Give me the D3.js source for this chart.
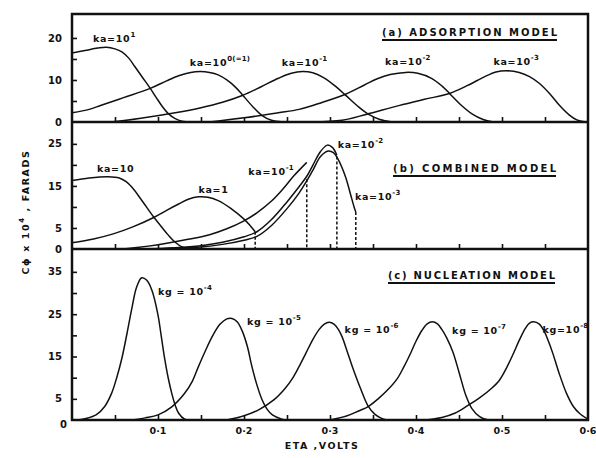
<!DOCTYPE html>
<html>
<head>
<meta charset="utf-8">
<script src="https://cdn.jsdelivr.net/npm/d3@7"></script>
<style>
  body { margin: 0; background: #fff; }
  text { font-family: "DejaVu Sans", sans-serif; font-weight: bold; fill: #111; }
</style>
</head>
<body>
<div id="chart"></div>
<script>
// ---- data: [eta (V), C x 10^4 (F)] ----
// (a) adsorption model
const adsKa10   = [[0,16.4],[0.015,17.0],[0.03,17.6],[0.04,17.8],[0.05,17.4],[0.058,16.7],[0.066,15.2],[0.073,13.2],[0.082,10.6],[0.091,8.0],[0.098,5.8],[0.105,3.7],[0.112,2.0],[0.12,0.8],[0.128,0.2],[0.14,0]];
const adsKa1    = [[0,2.2],[0.02,3.0],[0.034,4.0],[0.06,5.8],[0.091,8.0],[0.11,9.8],[0.124,11.0],[0.138,11.8],[0.149,12.0],[0.16,11.8],[0.17,11.2],[0.18,10.0],[0.19,8.3],[0.198,6.5],[0.21,3.7],[0.221,1.5],[0.232,0.4],[0.245,0]];
const adsKa01   = [[0.045,0],[0.08,0.9],[0.12,2.2],[0.15,3.4],[0.175,4.7],[0.198,6.3],[0.22,8.4],[0.24,10.4],[0.255,11.6],[0.268,12.0],[0.28,11.7],[0.292,10.6],[0.305,8.7],[0.318,6.4],[0.332,3.8],[0.345,1.8],[0.358,0.6],[0.372,0]];
const adsKa001  = [[0.16,0],[0.2,1.0],[0.24,2.2],[0.264,3.0],[0.29,4.6],[0.318,6.6],[0.34,8.8],[0.355,10.3],[0.37,11.3],[0.388,11.8],[0.402,11.6],[0.418,10.4],[0.43,8.6],[0.439,6.8],[0.452,4.1],[0.466,1.8],[0.478,0.6],[0.49,0]];
const adsKa0001 = [[0.28,0],[0.314,0.4],[0.342,1.8],[0.38,3.9],[0.41,5.4],[0.439,6.8],[0.46,8.7],[0.48,10.8],[0.493,11.9],[0.505,12.2],[0.52,11.8],[0.532,10.8],[0.544,9.1],[0.556,6.6],[0.567,3.9],[0.578,1.7],[0.587,0.5],[0.597,0]];

// (b) combined model
const comKa10   = [[0,16.3],[0.02,16.9],[0.042,17.2],[0.055,16.9],[0.063,16.0],[0.07,14.6],[0.08,11.9],[0.095,7.6],[0.104,5.3],[0.112,3.3],[0.12,1.6],[0.128,0.5],[0.138,0]];
const comKa1    = [[0,1.5],[0.025,2.4],[0.048,3.6],[0.07,5.2],[0.095,7.5],[0.11,9.2],[0.124,10.7],[0.136,11.9],[0.147,12.4],[0.158,12.3],[0.17,11.5],[0.185,9.6],[0.2,7.1],[0.207,5.6],[0.213,4.1]];
const comKa01   = [[0.06,0],[0.1,1.0],[0.135,2.3],[0.16,3.4],[0.18,4.8],[0.2,6.7],[0.215,8.6],[0.232,11.4],[0.245,14.2],[0.258,17.4],[0.273,20.6]];
const comKa001  = [[0.08,0],[0.12,0.3],[0.15,0.8],[0.175,1.6],[0.2,2.9],[0.215,4.1],[0.232,7.0],[0.25,11.2],[0.264,14.8],[0.273,17.3],[0.28,19.9],[0.289,23.2],[0.297,24.7],[0.303,24.1],[0.308,22.3]];
const comKa0001 = [[0.085,0],[0.12,0.2],[0.15,0.5],[0.175,1.1],[0.2,2.1],[0.215,3.0],[0.232,5.6],[0.25,9.6],[0.264,13.3],[0.273,16.2],[0.28,18.7],[0.289,22.0],[0.298,23.3],[0.304,22.9],[0.309,21.5],[0.318,17.2],[0.324,12.9],[0.328,10.0],[0.33,8.8]];
// dashed drops: [eta, top value]
const comDrops  = [[0.213,4.1],[0.273,16.6],[0.308,22.0],[0.33,8.8]];

// (c) nucleation model
const nucKg4 = [[0.008,0],[0.015,0.3],[0.028,1.2],[0.038,3.2],[0.046,6.3],[0.052,10],[0.058,14.6],[0.064,20.5],[0.07,26.8],[0.075,31.3],[0.081,33.6],[0.087,33.0],[0.093,30.6],[0.1,24.8],[0.104,19.5],[0.108,14.2],[0.112,9.8],[0.116,6.3],[0.12,3.5],[0.124,1.6],[0.131,0.2],[0.136,0]];
const nucKg5 = [[0.07,0],[0.085,0.5],[0.1,1.2],[0.116,3.1],[0.131,6.3],[0.14,9.2],[0.147,12.6],[0.155,16.3],[0.163,19.7],[0.172,22.6],[0.18,23.9],[0.186,24.0],[0.192,23.2],[0.198,21.0],[0.204,17.3],[0.209,12.8],[0.215,8.3],[0.221,4.8],[0.227,2.5],[0.233,1.2],[0.244,0.2],[0.25,0]];
const nucKg6 = [[0.18,0],[0.2,1.0],[0.217,2.4],[0.235,4.8],[0.248,7.5],[0.256,9.7],[0.264,12.6],[0.272,15.8],[0.28,19.0],[0.287,21.3],[0.293,22.6],[0.299,23.1],[0.305,22.6],[0.31,21.3],[0.314,19.7],[0.32,16.2],[0.326,12.6],[0.336,7.2],[0.344,3.4],[0.352,1.4],[0.36,0.4],[0.366,0]];
const nucKg7 = [[0.3,0],[0.32,1.0],[0.334,2.2],[0.344,3.1],[0.356,5.0],[0.368,7.3],[0.378,9.7],[0.386,12.6],[0.394,15.9],[0.4,18.6],[0.407,21.2],[0.413,22.7],[0.419,23.2],[0.425,22.7],[0.43,21.4],[0.436,19.3],[0.443,16.0],[0.45,11.3],[0.458,5.8],[0.465,2.7],[0.474,0.8],[0.484,0]];
const nucKg8 = [[0.41,0],[0.43,0.6],[0.445,1.6],[0.46,3.4],[0.475,5.4],[0.488,7.5],[0.497,9.4],[0.505,12.2],[0.513,15.6],[0.52,18.8],[0.527,21.6],[0.532,22.9],[0.537,23.2],[0.543,22.7],[0.549,21.0],[0.554,18.6],[0.559,15.8],[0.566,11.3],[0.575,6.3],[0.583,3.2],[0.59,1.6],[0.6,0.2]];

// axes
const etaTicks   = [0.05,0.1,0.15,0.2,0.25,0.3,0.35,0.4,0.45,0.5,0.55];
const etaLabels  = [0.1,0.2,0.3,0.4,0.5,0.6];
const ticksA  = [5,10,15,20];       const labelsA = [0,10,20];
const ticksB  = [5,10,15,20,25];    const labelsB = [0,5,15,25];
const ticksC  = [5,10,15,20,25,30,35]; const labelsC = [5,15,25,35];

// curve labels: [eta, value, base, superscript]
const notesA = [[0.0244,19.0,"ka=10","1"],[0.137,13.3,"ka=10","0(=1)"],[0.244,13.3,"ka=10","-1"],[0.364,13.6,"ka=10","-2"],[0.49,13.6,"ka=10","-3"]];
const notesB = [[0.029,18.3,"ka=10",""],[0.147,13.3,"ka=1",""],[0.205,17.6,"ka=10","-1"],[0.309,24.0,"ka=10","-2"],[0.329,11.7,"ka=10","-3"]];
const notesC = [[0.1,29.6,"kg = 10","-4"],[0.2035,22.5,"kg = 10","-5"],[0.317,20.6,"kg = 10","-6"],[0.442,20.3,"kg = 10","-7"],[0.547,20.6,"kg=10","-8"]];

// ---- layout ----
const W = 596, H = 458;
const x = d3.scaleLinear().domain([0, 0.6]).range([72, 588]);

const panels = [
  { key: "a", top: 14, bottom: 122, ymax: 25.7, ticks: ticksA, labels: labelsA, notes: notesA,
    series: [adsKa10, adsKa1, adsKa01, adsKa001, adsKa0001],
    title: "(a)  ADSORPTION  MODEL", tx: 382, tw: 175, ty: 36 },
  { key: "b", top: 122, bottom: 249, ymax: 30.2, ticks: ticksB, labels: labelsB, notes: notesB,
    series: [comKa10, comKa1, comKa01, comKa001, comKa0001], drops: comDrops,
    title: "(b)  COMBINED  MODEL", tx: 393, tw: 163, ty: 172 },
  { key: "c", top: 249, bottom: 420, ymax: 40.4, ticks: ticksC, labels: labelsC, notes: notesC,
    series: [nucKg4, nucKg5, nucKg6, nucKg7, nucKg8],
    title: "(c)  NUCLEATION  MODEL", tx: 388, tw: 167, ty: 279 }
];

const svg = d3.select("#chart").append("svg")
  .attr("width", W).attr("height", H)
  .style("background", "#fff");

panels.forEach(p => {
  const y = d3.scaleLinear().domain([0, p.ymax]).range([p.bottom, p.top]);
  const g = svg.append("g").attr("class", "panel-" + p.key);

  svg.append("clipPath").attr("id", "clip-" + p.key)
    .append("rect").attr("x", x(0)).attr("y", p.top)
    .attr("width", x(0.6) - x(0)).attr("height", p.bottom - p.top);

  // y ticks inward
  const yAxis = d3.axisLeft(y).tickValues(p.ticks).tickSize(-5).tickFormat("");
  g.append("g").attr("transform", `translate(${x(0)},0)`).call(yAxis)
    .call(a => a.select(".domain").remove())
    .call(a => a.selectAll("line").attr("stroke", "#111").attr("stroke-width", 1.6));

  g.selectAll("text.ylab").data(p.labels).join("text")
    .attr("class", "ylab")
    .attr("x", 62).attr("y", d => y(d)).attr("dy", "0.36em")
    .attr("text-anchor", "end").style("font-size", "10px")
    .text(d => d);

  // x ticks inward
  const xAxis = d3.axisBottom(x).tickValues(etaTicks).tickSize(-5).tickFormat("");
  g.append("g").attr("transform", `translate(0,${p.bottom})`).call(xAxis)
    .call(a => a.select(".domain").remove())
    .call(a => a.selectAll("line").attr("stroke", "#111").attr("stroke-width", 1.6));

  const line = d3.line().x(d => x(d[0])).y(d => y(d[1])).curve(d3.curveCatmullRom.alpha(0.5));
  const cg = g.append("g").attr("clip-path", `url(#clip-${p.key})`);
  cg.selectAll("path.curve").data(p.series).join("path")
    .attr("class", "curve")
    .attr("d", line)
    .attr("fill", "none").attr("stroke", "#111").attr("stroke-width", 1.5)
    .attr("stroke-linejoin", "round");

  if (p.drops) {
    cg.selectAll("line.drop").data(p.drops).join("line")
      .attr("class", "drop")
      .attr("x1", d => x(d[0])).attr("x2", d => x(d[0]))
      .attr("y1", d => y(d[1])).attr("y2", y(0))
      .attr("stroke", "#111").attr("stroke-width", 1.5)
      .attr("stroke-dasharray", "3,2");
  }

  // curve labels
  const nt = g.selectAll("text.note").data(p.notes).join("text")
    .attr("class", "note")
    .attr("x", d => x(d[0])).attr("y", d => y(d[1]))
    .style("font-size", "9.5px").style("letter-spacing", "0.7px");
  nt.append("tspan").text(d => d[2]);
  nt.append("tspan").attr("dy", -5).style("font-size", "7px").style("letter-spacing", "0.2px").text(d => d[3]);

  // panel title + underline
  g.append("text").attr("x", p.tx).attr("y", p.ty)
    .attr("textLength", p.tw).attr("lengthAdjust", "spacing")
    .style("font-size", "10px").text(p.title);
  g.append("line").attr("x1", p.tx).attr("x2", p.tx + p.tw)
    .attr("y1", p.ty + 4).attr("y2", p.ty + 4)
    .attr("stroke", "#111").attr("stroke-width", 1.8);
});

// origin label of bottom panel
svg.append("text").attr("x", 67).attr("y", 428).attr("text-anchor", "end")
  .style("font-size", "10px").text("0");

// x tick labels
svg.selectAll("text.xlab").data(etaLabels).join("text")
  .attr("class", "xlab")
  .attr("x", d => x(d)).attr("y", 434).attr("text-anchor", "middle")
  .style("font-size", "9.5px")
  .text(d => "0·" + Math.round(d * 10));

// frame and panel separators
svg.append("rect").attr("x", x(0)).attr("y", panels[0].top)
  .attr("width", x(0.6) - x(0)).attr("height", panels[2].bottom - panels[0].top)
  .attr("fill", "none").attr("stroke", "#111").attr("stroke-width", 2.5);
svg.selectAll("line.sep").data(panels.slice(0, 2)).join("line")
  .attr("class", "sep")
  .attr("x1", x(0)).attr("x2", x(0.6))
  .attr("y1", d => d.bottom).attr("y2", d => d.bottom)
  .attr("stroke", "#111").attr("stroke-width", 2.5);

// axis titles
svg.append("text").attr("x", 322).attr("y", 449).attr("text-anchor", "middle")
  .style("font-size", "9.5px").style("letter-spacing", "1.5px")
  .text("ETA ,VOLTS");

const yt = svg.append("text")
  .attr("transform", "translate(29,212) rotate(-90)")
  .attr("text-anchor", "middle")
  .style("font-size", "9.5px").style("letter-spacing", "1.6px");
yt.append("tspan").text("Cϕ  x 10");
yt.append("tspan").attr("dy", -5).style("font-size", "7px").text("4");
yt.append("tspan").attr("dy", 5).text("  ,  FARADS");
</script>
</body>
</html>
